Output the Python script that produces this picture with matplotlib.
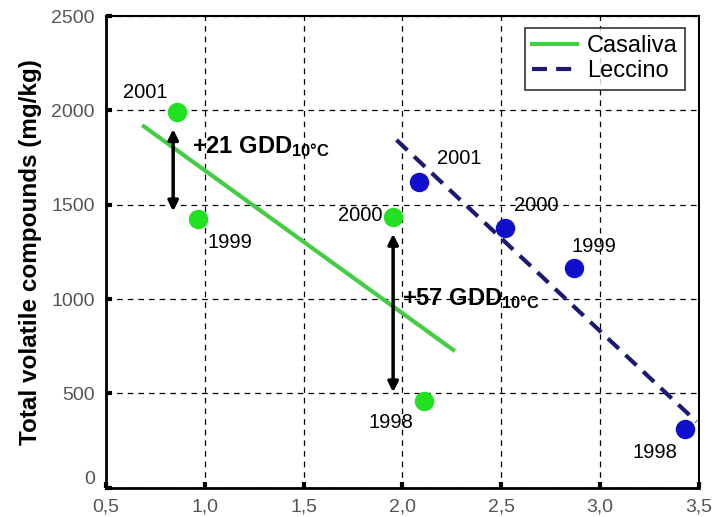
import matplotlib
matplotlib.use("Agg")
import matplotlib.pyplot as plt
import numpy as np

plt.rcParams['font.family'] = ['Liberation Sans', 'DejaVu Sans']
plt.rcParams['mathtext.fontset'] = 'custom'
plt.rcParams['mathtext.rm'] = 'Liberation Sans'
plt.rcParams['mathtext.bf'] = 'Liberation Sans:bold'
plt.rcParams['mathtext.it'] = 'Liberation Sans:italic'

years = ["1998", "1999", "2000", "2001"]
casaliva_x = [2.11, 0.967, 1.953, 0.858]
casaliva_y = [461, 1422, 1436, 1990]
leccino_x = [3.428, 2.867, 2.52, 2.085]
leccino_y = [309, 1164, 1375, 1622]

casaliva_fit_x = [0.692, 2.257]
casaliva_fit_y = [1915, 730]
leccino_fit_x = [1.97, 3.488]
leccino_fit_y = [1843, 350]

casaliva_lbl_x = [1.94, 1.127, 1.785, 0.697]
casaliva_lbl_y = [348, 1297, 1445, 2097]
leccino_lbl_x = [3.28, 2.97, 2.675, 2.29]
leccino_lbl_y = [189, 1281, 1497, 1747]

xticks = [0.5, 1.0, 1.5, 2.0, 2.5, 3.0, 3.5]
xtick_labels = ["0,5", "1,0", "1,5", "2,0", "2,5", "3,0", "3,5"]
yticks = [0, 500, 1000, 1500, 2000, 2500]

fig = plt.figure(figsize=(7.19, 5.17), dpi=100)
ax = fig.add_axes([0.1474, 0.0567, 0.8246, 0.9123])
ax.set_xlim(0.5, 3.5)
ax.set_ylim(0, 2500)

ax.grid(True, color='black', linestyle=(0, (4.5, 4)), linewidth=0.9)
ax.set_axisbelow(True)

ax.plot(casaliva_fit_x, casaliva_fit_y, color='#44cc44', lw=3, label='Casaliva', zorder=3)
ax.plot(leccino_fit_x, leccino_fit_y, color='#1a1a70', lw=3, ls=(0, (3.6, 2.2)), label='Leccino', zorder=3)
ax.plot(casaliva_x, casaliva_y, 'o', color='#22e022', ms=13, zorder=4)
ax.plot(leccino_x, leccino_y, 'o', color='#1010cc', ms=13, zorder=4)

for t, x, y in zip(years, casaliva_lbl_x, casaliva_lbl_y):
    ax.text(x, y, t, fontsize=14.5, ha='center', va='center', zorder=5)
for t, x, y in zip(years, leccino_lbl_x, leccino_lbl_y):
    ax.text(x, y, t, fontsize=14.5, ha='center', va='center', zorder=5)

ax.annotate('', xy=(0.84, 1450), xytext=(0.84, 1915),
            arrowprops=dict(arrowstyle='<|-|>', color='black', lw=2.5, mutation_scale=15), zorder=5)
ax.annotate('', xy=(1.953, 491), xytext=(1.953, 1360),
            arrowprops=dict(arrowstyle='<|-|>', color='black', lw=2.5, mutation_scale=15), zorder=5)
ax.text(0.934, 1807, r'+21 GDD$_{\mathbf{10°C}}$', fontsize=17, fontweight='bold', va='center', ha='left', zorder=5)
ax.text(2.0, 1005, r'+57 GDD$_{\mathbf{10°C}}$', fontsize=17, fontweight='bold', va='center', ha='left', zorder=5)

ax.set_xticks(xticks)
ax.set_xticklabels(xtick_labels)
ax.set_yticks(yticks)
ax.tick_params(axis='both', labelsize=14, labelcolor='#555555', length=4, width=3, direction='in')
ax.tick_params(axis='x', pad=8)
ax.tick_params(axis='y', pad=8)
ylabs = ax.get_yticklabels()
ylabs[0].set_va('bottom')
ax.set_ylabel('Total volatile compounds (mg/kg)', fontsize=17.5, fontweight='bold', labelpad=7)
for s in ['left', 'bottom']:
    ax.spines[s].set_linewidth(2)
for s in ['top', 'right']:
    ax.spines[s].set_linewidth(1.5)

leg = ax.legend(loc='upper right', fontsize=17, frameon=True, fancybox=False, edgecolor='black',
                handlelength=1.9, handletextpad=0.4, borderpad=0.3, labelspacing=0.15,
                borderaxespad=0, bbox_to_anchor=(0.976, 0.975))
leg.get_frame().set_linewidth(1.2)

fig.savefig('out.png', dpi=100)
